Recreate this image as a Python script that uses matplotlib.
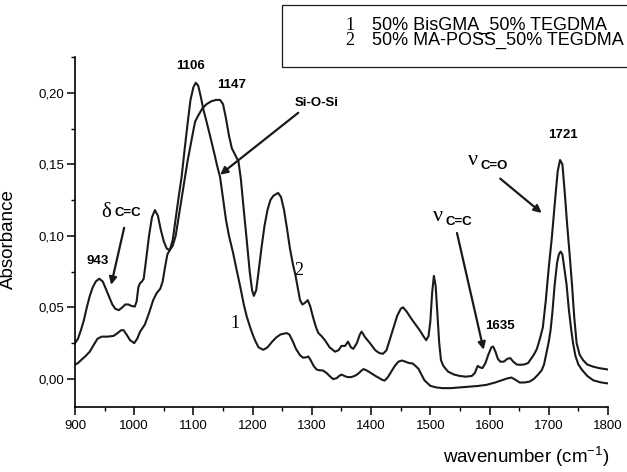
import matplotlib
matplotlib.use('Agg')
import matplotlib.pyplot as plt
from matplotlib.ticker import MultipleLocator, FuncFormatter
from matplotlib.patches import Rectangle

plt.rcParams['font.family'] = ['Liberation Sans', 'DejaVu Sans']
plt.rcParams['mathtext.fontset'] = 'custom'
plt.rcParams['mathtext.rm'] = 'Liberation Sans'
plt.rcParams['mathtext.it'] = 'Liberation Sans:italic'
plt.rcParams['mathtext.bf'] = 'Liberation Sans:bold'

# FTIR spectra, absorbance vs wavenumber
# curve 1: 50% BisGMA_50% TEGDMA
wn1 = [900, 905, 910, 917, 925, 932, 938, 945, 955, 965, 972, 978, 982, 987, 993,
       1000, 1005, 1010, 1018, 1025, 1032, 1038, 1044, 1048, 1052, 1056, 1060, 1065,
       1070, 1075, 1080, 1085, 1090, 1095, 1100, 1104, 1108, 1112, 1117, 1122, 1128,
       1135, 1140, 1145, 1150, 1155, 1160, 1167, 1173, 1179, 1185, 1190, 1195, 1200,
       1205, 1210, 1218, 1225, 1233, 1240, 1247, 1257, 1262, 1268, 1273, 1280, 1285,
       1290, 1294, 1298, 1303, 1308, 1313, 1319, 1325, 1331, 1336, 1342, 1346, 1350,
       1355, 1360, 1366, 1372, 1378, 1383, 1387, 1392, 1398, 1407, 1414, 1419, 1423,
       1428, 1434, 1440, 1446, 1452, 1458, 1464, 1470, 1475, 1480, 1485, 1490, 1495,
       1500, 1510, 1520, 1535, 1550, 1565, 1580, 1595, 1610, 1623, 1630, 1637, 1643,
       1651, 1660, 1668, 1675, 1682, 1688, 1692, 1696, 1700, 1703, 1706, 1710, 1714,
       1717, 1720, 1723, 1726, 1730, 1734, 1738, 1741, 1745, 1750, 1756, 1765, 1775,
       1788, 1800]
ab1 = [0.010, 0.011, 0.013, 0.0156, 0.019, 0.024, 0.028, 0.0295, 0.0295, 0.030, 0.032,
       0.034, 0.034, 0.031, 0.027, 0.025, 0.028, 0.033, 0.038, 0.046, 0.055, 0.060,
       0.063, 0.068, 0.078, 0.087, 0.090, 0.097, 0.112, 0.127, 0.141, 0.160, 0.178,
       0.195, 0.204, 0.207, 0.205, 0.198, 0.188, 0.180, 0.170, 0.158, 0.149, 0.141,
       0.126, 0.111, 0.100, 0.088, 0.076, 0.0645, 0.052, 0.0436, 0.037, 0.031, 0.026,
       0.022, 0.0203, 0.022, 0.026, 0.029, 0.031, 0.032, 0.031, 0.026, 0.021, 0.0165,
       0.0148, 0.015, 0.0156, 0.013, 0.009, 0.0065, 0.006, 0.0058, 0.004, 0.0015,
       -0.0002, 0.0005, 0.002, 0.003, 0.002, 0.0012, 0.0012, 0.002, 0.0035, 0.0055,
       0.0068, 0.006, 0.0045, 0.0021, 0.0005, -0.0008, -0.0012, 0.001, 0.005, 0.009,
       0.012, 0.0128, 0.012, 0.011, 0.0108, 0.009, 0.007, 0.003, -0.001, -0.003,
       -0.0049, -0.006, -0.0065, -0.0065, -0.006, -0.0055, -0.005, -0.0042, -0.0025,
       -0.0007, 0.0003, 0.0009, -0.0005, -0.0026, -0.0025, -0.0019, 0.000, 0.003,
       0.006, 0.010, 0.018, 0.026, 0.034, 0.046, 0.066, 0.081, 0.087, 0.089, 0.087,
       0.078, 0.066, 0.048, 0.034, 0.025, 0.016, 0.010, 0.0063, 0.002, -0.001,
       -0.0025, -0.0032]

# curve 2: 50% MA-POSS_50% TEGDMA
wn2 = [900, 905, 910, 915, 920, 925, 930, 935, 941, 947, 952, 958, 963, 968, 974, 980,
       985, 990, 995, 1001, 1004, 1007, 1010, 1013, 1016, 1020, 1025, 1030, 1035, 1040,
       1045, 1050, 1055, 1060, 1065, 1070, 1075, 1080, 1085, 1090, 1095, 1100, 1103,
       1108, 1115, 1122, 1130, 1138, 1145, 1150, 1155, 1160, 1165, 1170, 1176, 1180,
       1185, 1190, 1195, 1199, 1202, 1206, 1210, 1215, 1220, 1225, 1230, 1235, 1243,
       1248, 1253, 1258, 1263, 1268, 1272, 1276, 1280, 1284, 1288, 1293, 1297, 1302,
       1307, 1311, 1316, 1322, 1330, 1339, 1345, 1350, 1356, 1361, 1366, 1370, 1376,
       1381, 1384, 1390, 1398, 1407, 1414, 1420, 1426, 1432, 1438, 1444, 1450, 1454,
       1460, 1468, 1475, 1482, 1488, 1493, 1497, 1500, 1503, 1506, 1509, 1512, 1515,
       1518, 1522, 1530, 1540, 1550, 1560, 1570, 1575, 1580, 1584, 1588, 1593, 1598,
       1603, 1606, 1610, 1614, 1618, 1624, 1630, 1635, 1640, 1646, 1651, 1658, 1665,
       1670, 1675, 1680, 1685, 1690, 1695, 1700, 1705, 1710, 1715, 1719, 1723, 1727,
       1731, 1735, 1739, 1743, 1747, 1752, 1758, 1765, 1775, 1785, 1800]
ab2 = [0.025, 0.028, 0.034, 0.041, 0.050, 0.058, 0.064, 0.068, 0.070, 0.068, 0.063,
       0.057, 0.052, 0.049, 0.048, 0.050, 0.052, 0.052, 0.051, 0.0505, 0.054, 0.064,
       0.067, 0.068, 0.070, 0.083, 0.100, 0.113, 0.118, 0.114, 0.104, 0.096, 0.091,
       0.090, 0.093, 0.100, 0.113, 0.126, 0.139, 0.152, 0.163, 0.174, 0.180, 0.184,
       0.189, 0.192, 0.194, 0.195, 0.195, 0.192, 0.182, 0.170, 0.161, 0.157, 0.152,
       0.140, 0.118, 0.097, 0.075, 0.062, 0.058, 0.062, 0.075, 0.092, 0.107, 0.118,
       0.125, 0.128, 0.130, 0.127, 0.118, 0.105, 0.091, 0.080, 0.073, 0.064, 0.055,
       0.052, 0.053, 0.055, 0.051, 0.043, 0.036, 0.032, 0.030, 0.027, 0.022, 0.019,
       0.020, 0.023, 0.023, 0.026, 0.022, 0.021, 0.025, 0.031, 0.033, 0.029, 0.025,
       0.020, 0.018, 0.0175, 0.020, 0.028, 0.036, 0.044, 0.049, 0.050, 0.047, 0.042,
       0.038, 0.034, 0.030, 0.027, 0.030, 0.040, 0.060, 0.072, 0.065, 0.045, 0.025,
       0.013, 0.009, 0.005, 0.003, 0.002, 0.0015, 0.002, 0.004, 0.009, 0.008, 0.0075,
       0.011, 0.017, 0.022, 0.0226, 0.019, 0.014, 0.012, 0.012, 0.014, 0.0145, 0.012,
       0.010, 0.0098, 0.010, 0.011, 0.014, 0.017, 0.021, 0.028, 0.036, 0.055, 0.078,
       0.098, 0.122, 0.145, 0.153, 0.150, 0.130, 0.108, 0.088, 0.067, 0.043, 0.025,
       0.017, 0.013, 0.010, 0.0085, 0.0075, 0.0065]

legend_labels = ['50% BisGMA_50% TEGDMA', '50% MA-POSS_50% TEGDMA']

fig = plt.figure(figsize=(6.27, 4.72), dpi=100)
ax = fig.add_axes([0.1196, 0.1383, 0.8501, 0.7409])

ax.plot(wn1, ab1, color='#1a1a1a', lw=1.5)
ax.plot(wn2, ab2, color='#1a1a1a', lw=1.5)

ax.set_xlim(900, 1800)
ax.set_ylim(-0.0195, 0.225)
ax.spines['top'].set_visible(False)
ax.spines['right'].set_visible(False)
for s in ['left', 'bottom']:
    ax.spines[s].set_linewidth(1.2)

ax.xaxis.set_major_locator(MultipleLocator(100))
ax.xaxis.set_minor_locator(MultipleLocator(50))
ax.yaxis.set_major_locator(MultipleLocator(0.05))
ax.yaxis.set_minor_locator(MultipleLocator(0.025))
ax.yaxis.set_major_formatter(FuncFormatter(lambda v, p: ('%.2f' % v).replace('.', ',')))
ax.tick_params(which='major', direction='out', length=5.5, width=1.1, labelsize=9.5)
ax.tick_params(which='minor', direction='out', length=3, width=1.0)
ax.tick_params(axis='x', pad=4)
ax.tick_params(axis='y', pad=2)

ax.set_ylabel('Absorbance', fontsize=13.5)
ax.yaxis.set_label_coords(-0.109, 0.48)
fig.text(443 / 627, 1 - 457 / 472, 'wavenumber (cm$^{-1}$)', fontsize=13.5,
         ha='left', va='center')

# curve numbers
serif = ['Liberation Serif', 'DejaVu Serif']
ax.text(1170, 0.0385, '1', family=serif, fontsize=13, ha='center', va='center')
ax.text(1277, 0.076, '2', family=serif, fontsize=13, ha='center', va='center')

# peak positions
bold = dict(fontsize=9.5, fontweight='bold', ha='center', va='center')
ax.text(1095.6, 0.2189, '1106', **bold)
ax.text(1164.6, 0.2056, '1147', **bold)
ax.text(938.6, 0.0827, '943', **bold)
ax.text(1617, 0.0366, '1635', **bold)
ax.text(1724.6, 0.1706, '1721', **bold)
ax.text(1308.6, 0.193, 'Si-O-Si', **bold)

# band assignments
ax.text(952.7, 0.1165, 'δ', family=serif, fontsize=15, ha='center', va='center')
ax.text(988.6, 0.1159, 'C=C', **bold)
ax.text(1513.5, 0.1135, 'ν', family=serif, fontsize=16, ha='center', va='center')
ax.text(1548.7, 0.110, 'C=C', **bold)
ax.text(1572, 0.1525, 'ν', family=serif, fontsize=16, ha='center', va='center')
ax.text(1608, 0.1485, 'C=O', **bold)

arrow = dict(arrowstyle='-|>', color='#1a1a1a', lw=1.6, mutation_scale=11,
             shrinkA=0, shrinkB=0)
ax.annotate('', xy=(1145, 0.1427), xytext=(1277, 0.186), arrowprops=arrow)
ax.annotate('', xy=(961, 0.0657), xytext=(983, 0.1056), arrowprops=arrow)
ax.annotate('', xy=(1590, 0.0203), xytext=(1545, 0.102), arrowprops=arrow)
ax.annotate('', xy=(1688, 0.116), xytext=(1618, 0.140), arrowprops=arrow)

# legend box at the top, running past the right edge
fig.patches.append(Rectangle((282 / 627, 1 - 67 / 472), 1.0, 62 / 472,
                             transform=fig.transFigure, fill=False,
                             edgecolor='#1a1a1a', lw=0.9))
for i, lab in enumerate(legend_labels):
    yy = 1 - (25 + 15.5 * i) / 472
    fig.text(350 / 627, yy, str(i + 1), family=serif, fontsize=13,
             ha='center', va='center')
    fig.text(372 / 627, yy, lab, fontsize=13, ha='left', va='center')

plt.savefig('out.png', dpi=100)
